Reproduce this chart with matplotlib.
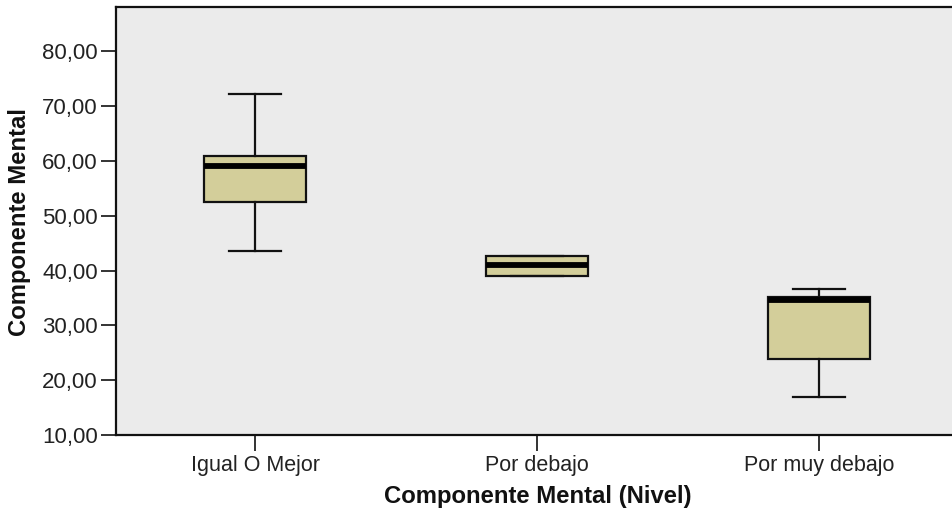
import matplotlib
matplotlib.use("Agg")
import matplotlib.pyplot as plt
from matplotlib.ticker import FuncFormatter

# Box plot summary for each level of "Componente Mental"
categories = ["Igual O Mejor", "Por debajo", "Por muy debajo"]
whisker_low = [43.6, 39.1, 16.9]
q1 = [52.6, 39.1, 23.9]
median = [59.0, 41.0, 34.6]
q3 = [60.9, 42.75, 35.1]
whisker_high = [72.2, 42.75, 36.6]
yticks = [10, 20, 30, 40, 50, 60, 70, 80]

plt.rcParams["font.family"] = ["Liberation Sans", "DejaVu Sans"]

fig = plt.figure(figsize=(9.53, 5.16), dpi=100)
ax = fig.add_axes([116 / 953, 1 - 435 / 516, 1 - 116 / 953, (435 - 7) / 516])
ax.set_facecolor("#EBEBEB")

stats = []
for name, lo, a, m, b, hi in zip(categories, whisker_low, q1, median, q3, whisker_high):
    stats.append({"label": name, "whislo": lo, "q1": a, "med": m, "q3": b, "whishi": hi, "fliers": []})

positions = list(range(len(categories)))
ax.bxp(
    stats,
    positions=positions,
    widths=0.36,
    patch_artist=True,
    showfliers=False,
    capwidths=0.185,
    boxprops=dict(facecolor="#D3CE9A", edgecolor="#111111", linewidth=1.6),
    medianprops=dict(color="black", linewidth=4.2, solid_capstyle="butt"),
    whiskerprops=dict(color="#111111", linewidth=1.6),
    capprops=dict(color="#111111", linewidth=1.6),
)

ax.set_xlim(-0.493, 2.475)
ax.set_ylim(10, 88.1)
ax.set_yticks(yticks)
ax.yaxis.set_major_formatter(FuncFormatter(lambda v, p: f"{v:.2f}".replace(".", ",")))
ax.set_xticks(positions)
ax.set_xticklabels(categories)

for side in ("left", "top", "bottom"):
    ax.spines[side].set_linewidth(1.6)
    ax.spines[side].set_color("#111111")
ax.spines["right"].set_visible(False)

ax.tick_params(axis="y", length=11, width=1.2, color="#111111", pad=2,
               labelsize=16, labelcolor="#222222")
ax.tick_params(axis="x", length=11.5, width=1.2, color="#111111", pad=3,
               labelsize=15.5, labelcolor="#222222")

ax.set_xlabel("Componente Mental (Nivel)", fontsize=17.2, fontweight="bold", color="#111111")
ax.xaxis.set_label_coords((538 - 116) / 837, (435 - 497) / 428)
ax.xaxis.label.set_va("center")
ax.set_ylabel("Componente Mental", fontsize=17.2, fontweight="bold", color="#111111")
ax.yaxis.set_label_coords((20 - 116) / 837, (435 - 222) / 428)
ax.yaxis.label.set_va("center")

fig.savefig("out.png", dpi=100, facecolor="white")
